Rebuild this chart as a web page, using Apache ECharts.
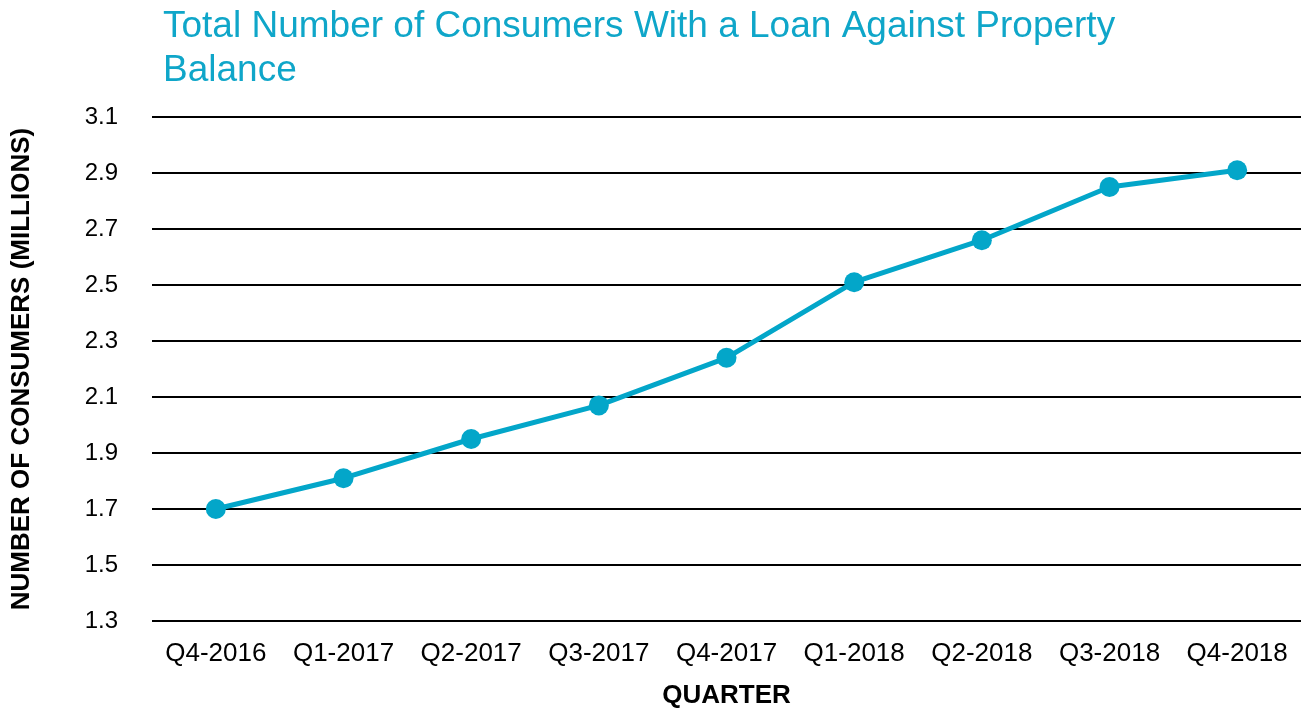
<!DOCTYPE html>
<html>
<head>
<meta charset="utf-8">
<script src="https://cdn.jsdelivr.net/npm/echarts@6/dist/echarts.min.js"></script>
<style>
html,body{margin:0;padding:0;background:#fff;}
#chart{width:1301px;height:711px;}
</style>
</head>
<body>
<div id="chart"></div>
<script>
const categories = ['Q4-2016','Q1-2017','Q2-2017','Q3-2017','Q4-2017','Q1-2018','Q2-2018','Q3-2018','Q4-2018'];
const consumers = [1.70, 1.81, 1.95, 2.07, 2.24, 2.51, 2.66, 2.85, 2.91];
const yMin = 1.3, yMax = 3.1, yStep = 0.2;
const titleText = 'Total Number of Consumers With a Loan Against Property\nBalance';
const xName = 'QUARTER';
const yName = 'NUMBER OF CONSUMERS (MILLIONS)';

const chart = echarts.init(document.getElementById('chart'));
chart.setOption({
  backgroundColor: '#ffffff',
  animation: false,
  title: {
    text: titleText,
    left: 158, top: 0,
    textStyle: {
      fontFamily: 'Liberation Sans, Arial, sans-serif',
      fontSize: 37, fontWeight: 'normal', color: '#0fa6c9', lineHeight: 44
    }
  },
  grid: { left: 152, right: 0, top: 117, bottom: 90, containLabel: false, outerBoundsMode: 'none' },
  xAxis: {
    type: 'category',
    data: categories,
    boundaryGap: true,
    name: xName,
    nameLocation: 'middle',
    nameGap: 62,
    nameTextStyle: { fontFamily: 'Liberation Sans, Arial, sans-serif', fontSize: 26, fontWeight: 'bold', color: '#000' },
    axisLine: { show: false },
    axisTick: { show: false },
    axisLabel: { interval: 0, fontFamily: 'Liberation Sans, Arial, sans-serif', fontSize: 26, color: '#000', margin: 20 }
  },
  yAxis: {
    type: 'value',
    min: yMin, max: yMax, interval: yStep,
    name: yName,
    nameLocation: 'middle',
    nameGap: 117,
    nameRotate: 90,
    nameTextStyle: { fontFamily: 'Liberation Sans, Arial, sans-serif', fontSize: 26, fontWeight: 'bold', color: '#000' },
    axisLine: { show: false },
    axisTick: { show: false },
    axisLabel: {
      fontFamily: 'Liberation Sans, Arial, sans-serif', fontSize: 24, color: '#000', margin: 34,
      formatter: v => v.toFixed(1)
    },
    splitLine: { lineStyle: { color: '#000', width: 2 } }
  },
  series: [{
    type: 'line',
    data: consumers,
    symbol: 'circle',
    symbolSize: 20,
    lineStyle: { color: '#03a6c9', width: 5 },
    itemStyle: { color: '#03a6c9' }
  }]
});
</script>
</body>
</html>
